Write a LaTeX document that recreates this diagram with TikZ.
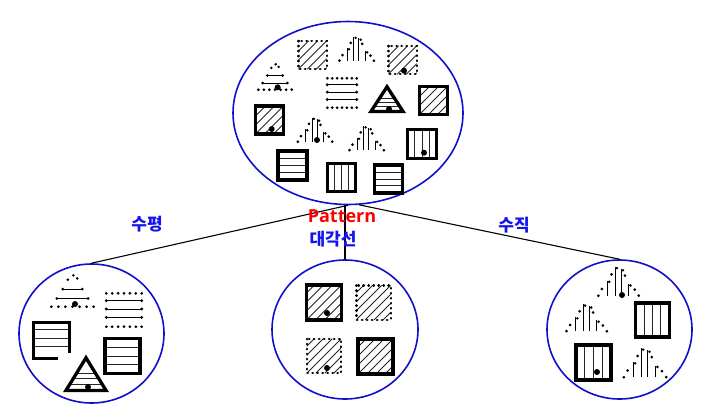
\documentclass[tikz,border=0pt]{standalone}
\usepackage{fontspec}
\newfontfamily\krfont{Noto Sans CJK KR}
\newfontfamily\latfont{Open Sans}
\usetikzlibrary{shapes.geometric}
\definecolor{RingBlue}{RGB}{16,16,204}
\definecolor{LabelBlue}{RGB}{20,20,235}

\tikzset{
  innerln/.style={line width=1pt, black!85},
  rim/.style={line width=3.3pt, black},
  dotrim/.style={line width=2.4pt, black, line cap=round, dash pattern=on 0.5pt off 4.5pt},
  dotpt/.style={black},
  pics/hsq/.style={code={
    \pgfmathsetmacro\half{#1/2-1.6}
    \foreach \ff in {-0.5,0,0.5}
      \draw[innerln] (-\half,\ff*\half) -- (\half,\ff*\half);
    \draw[rim] (-\half,-\half) rectangle (\half,\half);
  }},
  pics/vsq/.style={code={
    \pgfmathsetmacro\half{#1/2-1.6}
    \foreach \ff in {-0.5,0,0.5}
      \draw[innerln] (\ff*\half,-\half) -- (\ff*\half,\half);
    \draw[rim] (-\half,-\half) rectangle (\half,\half);
  }},
  pics/hatchsq/.style={code={
    \pgfmathsetmacro\half{#1/2-1.6}
    \begin{scope}
      \clip (-\half,-\half) rectangle (\half,\half);
      \foreach \kk in {-36,-27,...,36}
        \draw[innerln] (\kk-\half,\half) -- (\kk+\half,-\half);
    \end{scope}
    \draw[rim] (-\half,-\half) rectangle (\half,\half);
  }},
  pics/dhatchsq/.style={code={
    \pgfmathsetmacro\half{#1/2-1.3}
    \begin{scope}
      \clip (-\half,-\half) rectangle (\half,\half);
      \foreach \kk in {-36,-27,...,36}
        \draw[innerln] (\kk-\half,\half) -- (\kk+\half,-\half);
    \end{scope}
    \draw[dotrim] (-\half,-\half) rectangle (\half,\half);
  }},
  pics/dhrect/.style 2 args={code={
    \pgfmathsetmacro\halfw{#1/2-1.3}
    \pgfmathsetmacro\halfh{#2/2-1.3}
    \foreach \ii in {0,...,6}
      \fill[dotpt] (-\halfw+\ii*\halfw/3,-\halfh) circle (1.5pt)
                   (-\halfw+\ii*\halfw/3,\halfh) circle (1.5pt);
    \foreach \ff in {-0.56,-0.06,0.44}{
      \draw[innerln, black] (-\halfw,\ff*\halfh) -- (\halfw,\ff*\halfh);
      \fill[dotpt] (-\halfw,\ff*\halfh) circle (1.6pt) (\halfw,\ff*\halfh) circle (1.6pt);
    }
  }},
  pics/dhtri/.style 2 args={code={
    \pgfmathsetmacro\halfw{#1/2-1.3}
    \pgfmathsetmacro\halfh{#2/2-1.3}
    \foreach \ii in {0,...,6}
      \fill[dotpt] (-\halfw+\ii*\halfw/3,\halfh) circle (1.5pt);
    \foreach \ff/\rr in {0.26/0.74,0.56/0.46}{
      \draw[innerln, black] (-\rr*\halfw,\halfh-2*\ff*\halfh) -- (\rr*\halfw,\halfh-2*\ff*\halfh);
      \fill[dotpt] (-\rr*\halfw,\halfh-2*\ff*\halfh) circle (1.5pt)
                   (\rr*\halfw,\halfh-2*\ff*\halfh) circle (1.5pt);
    }
    \fill[dotpt] (-0.22*\halfw,-0.72*\halfh) circle (1.4pt) (0.04*\halfw,-\halfh) circle (1.4pt)
                 (0.22*\halfw,-0.8*\halfh) circle (1.4pt);
  }},
  pics/dvtri/.style 2 args={code={
    \pgfmathsetmacro\halfw{#1/2-1.3}
    \pgfmathsetmacro\halfh{#2/2-1.3}
    \foreach \ux/\tp in {-0.55/0.5,-0.17/0.95,0.13/0.88,0.5/0.38}{
      \draw[innerln, black] (\ux*\halfw,\halfh) -- (\ux*\halfw,\halfh-2*\tp*\halfh);
      \fill[dotpt] (\ux*\halfw+1.8,\halfh-2*\tp*\halfh+1.3) circle (1.4pt);
    }
    \foreach \ux/\tp in {-1/0,-0.82/0.22,-0.35/0.7,0.32/0.66,0.8/0.2,1/0}
      \fill[dotpt] (\ux*\halfw,\halfh-2*\tp*\halfh) circle (1.5pt);
  }},
  pics/stri/.style 2 args={code={
    \pgfmathsetmacro\halfw{#1/2-4}
    \pgfmathsetmacro\apexy{-#2/2+2.8}
    \pgfmathsetmacro\basey{#2/2-1.6}
    \begin{scope}
      \clip (-\halfw,\basey) -- (\halfw,\basey) -- (0,\apexy) -- cycle;
      \foreach \ff in {0.19,0.35,0.51}
        \draw[innerln] (-\halfw,\basey-\ff*\basey+\ff*\apexy) -- (\halfw,\basey-\ff*\basey+\ff*\apexy);
    \end{scope}
    \draw[rim] (-\halfw,\basey) -- (\halfw,\basey) -- (0,\apexy) -- cycle;
  }}
}

\begin{document}
\begin{tikzpicture}[x=1pt, y=-1pt,
  ring/.style={ellipse, draw=RingBlue, line width=1.6pt, inner sep=0pt},
  lab/.style={font=\krfont\bfseries\fontsize{17}{20}\selectfont, text=LabelBlue, inner sep=0pt},
  link/.style={line width=1.1pt, black}]
  \useasboundingbox (0,0) rectangle (711,418);
  \node[ring, minimum width=230pt, minimum height=183pt] (top) at (348,113) {};
  \node[ring, minimum width=145pt, minimum height=139pt] (left) at (91.5,333.5) {};
  \node[ring, minimum width=146pt, minimum height=139pt] (mid) at (345,329.5) {};
  \node[ring, minimum width=145pt, minimum height=139pt] (right) at (619.5,329.5) {};
  \draw[link] (top.south) -- (left.north);
  \draw[link] (top.south -| mid.north) -- (mid.north);
  \draw[link] (top.277) -- (right.north);
  \node[lab] (horiz) at (147,224) {수평};
  \node[lab, text=red, font=\latfont\bfseries\fontsize{18}{20}\selectfont] (pattern) at (342,216) {Pattern};
  \node[lab] (diag) at (333,239) {대각선};
  \node[lab] (vert) at (514,225) {수직};

  \foreach \px/\py/\ps in {433.5/100.5/31, 269.5/120/31, 324/302.5/38, 375.5/356.5/38}
    \pic at (\px,\py) {hatchsq=\ps};
  \foreach \px/\py/\ps in {312.5/55/31, 402.5/60/31, 373.5/302.5/37, 324/356/37}
    \pic at (\px,\py) {dhatchsq=\ps};
  \foreach \px/\py/\ps in {292.5/165.5/32, 388.5/179/31, 122.5/356/38}
    \pic at (\px,\py) {hsq=\ps};
  \foreach \px/\py/\ps in {422/144/32, 341.5/177.5/31, 652.5/320/37, 593.5/362.5/38}
    \pic at (\px,\py) {vsq=\ps};
  \foreach \px/\py/\pw/\ph in {342/93/32/32, 124/310/38/36}
    \pic at (\px,\py) {dhrect={\pw}{\ph}};
  \foreach \px/\py/\pw/\ph in {275/77/36/28, 72.5/291/45/34}
    \pic at (\px,\py) {dhtri={\pw}{\ph}};
  \foreach \px/\py/\pw/\ph in {356.7/48/37/28, 315/129/37/28, 366.7/137.5/37/28,
                              618.5/280.5/43/33, 586.7/317/43/31, 645/362/45/33}
    \pic at (\px,\py) {dvtri={\pw}{\ph}};
  \foreach \px/\py/\pw/\ph in {387/98.5/40/29, 86/373.5/48/37}
    \pic at (\px,\py) {stri={\pw}{\ph}};

  \draw[innerln] (34,329.5) -- (69,329.5) (34,338) -- (69,338) (34,346.5) -- (69,346.5);
  \draw[rim] (58,358.5) -- (33.5,358.5) -- (33.5,322.5) -- (69.5,322.5) -- (69.5,353);

  \foreach \px/\py in {404/70.7, 277.7/87.3, 389/109, 271.7/129, 317/140, 424/152.7,
                       75/304, 88/387, 327/313, 327/368, 622/295, 597/372}
    \fill[dotpt] (\px,\py) circle (3pt);
\end{tikzpicture}
\end{document}
